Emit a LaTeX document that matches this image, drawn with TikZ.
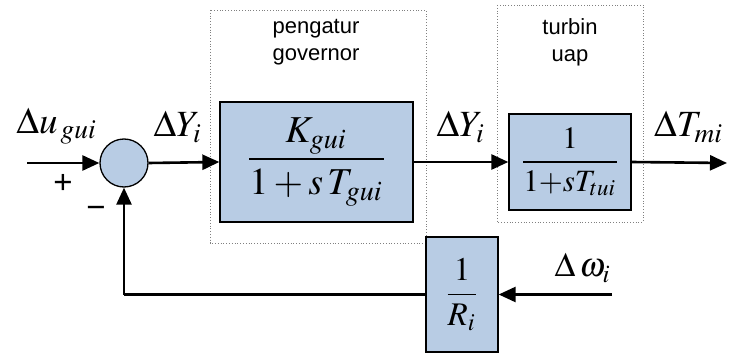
\documentclass[tikz,border=0pt]{standalone}
\usepackage{mathptmx}
\usepackage[no-math]{fontspec}
\usepackage{graphicx}
\newfontfamily\arialfont{Liberation Sans}
\usetikzlibrary{arrows.meta}
\definecolor{blockblue}{HTML}{B8CCE4}
\newcommand{\scmath}[2]{\scalebox{#1}{$\displaystyle #2$}}
\begin{document}
\begin{tikzpicture}[x=1pt,y=-1pt,
  blockbox/.style={draw=black,line width=1.3pt,fill=blockblue,inner sep=0pt},
  sig/.style={line width=2.6pt,-{Triangle[length=17pt,width=15pt]}},
  wire/.style={line width=2.6pt},
  grp/.style={draw=gray,dotted,line width=0.8pt},
  lab/.style={inner sep=0pt},
  sgn/.style={inner sep=0pt,font=\arialfont\fontsize{33}{36}\selectfont},
  txt/.style={inner sep=0pt,font=\arialfont\fontsize{22}{27}\selectfont,align=center}]
\useasboundingbox (0,0) rectangle (729,353);
% group boxes
\draw[grp] (210,10) rectangle (426,243);
\draw[grp] (497,5) rectangle (643,222);
\node[txt] (gtxt) at (316,42) {pengatur\\governor};
\node[txt] (ttxt) at (570,42) {turbin\\uap};
% blocks
\node[blockbox,circle,minimum size=48pt] (sum) at (124,163) {};
\node[blockbox,minimum width=193pt,minimum height=120pt] (gov) at (316.5,162)
  {\scmath{3.8}{\frac{K_{gui}}{1+s\,T_{gui}}}};
\node[blockbox,minimum width=122pt,minimum height=96pt] (tur) at (570,162)
  {\scmath{3.1}{\frac{1}{1{+}sT_{tui}}}};
\node[blockbox,minimum width=72pt,minimum height=115pt] (rb) at (462,294.5)
  {\scmath{3.3}{\frac{1}{R_i}}};
% coordinates
\coordinate (in) at (27,163);
\coordinate (out) at (727,163);
\coordinate (win) at (612,294.5);
\coordinate (corner) at (124,294.5);
% connectors
\draw[sig] (in) -- (sum.west);
\draw[sig] (sum.east) -- (gov.west);
\draw[sig] (gov.east) -- (tur.west);
\draw[sig] (tur.east) -- (out);
\draw[sig] (win) -- (rb.east);
\draw[wire] (rb.west) -- (corner);
\draw[sig] (corner) -- (sum.south);
% labels
\node[lab] (lu) at (57,126) {\scmath{3.7}{\Delta u_{\,gui}}};
\node[lab] (ly1) at (178,127) {\scmath{3.7}{\Delta Y_i}};
\node[lab] (ly2) at (461,127) {\scmath{3.7}{\Delta Y_i}};
\node[lab] (lt) at (689,127) {\scmath{3.7}{\Delta T_{mi}}};
\node[lab] (lw) at (583,268) {\scmath{3.4}{\Delta\,\omega_i}};
\node[sgn] (plus) at (63,184) {+};
\node[sgn] (minus) at (96,212) {−};
\end{tikzpicture}
\end{document}
